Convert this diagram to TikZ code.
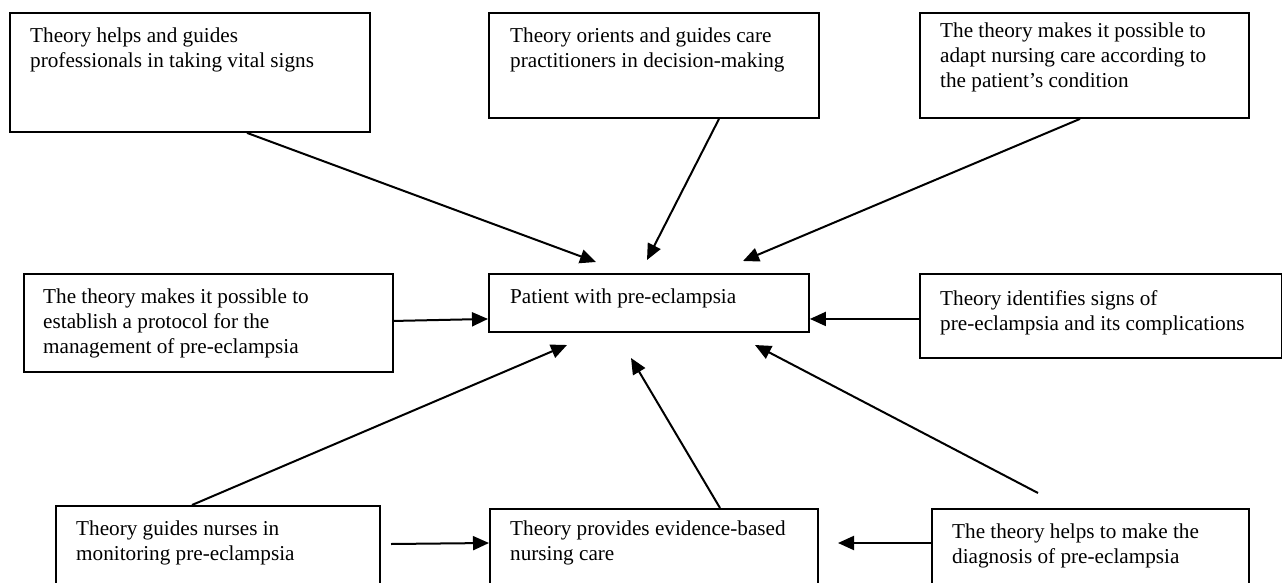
\documentclass[tikz,border=0pt]{standalone}
\usepackage{fontspec}
\setmainfont{Liberation Serif}
\usetikzlibrary{arrows.meta}
\begin{document}
\begin{tikzpicture}[x=1pt,y=-1pt,
  box/.style={draw=black,line width=1.9pt,rectangle,inner sep=0pt,anchor=north west},
  txt/.style={anchor=north west,inner sep=0pt,align=left,font=\fontsize{21.2}{25}\selectfont},
  arr/.style={line width=2pt,-{Triangle[length=16pt,width=14pt]}}]
\useasboundingbox (0,0) rectangle (1282,583);
% boxes
\node[box,minimum width=360pt,minimum height=119pt] (b1) at (9,12) {};
\node[box,minimum width=330pt,minimum height=105pt] (b2) at (488,12) {};
\node[box,minimum width=329pt,minimum height=105pt] (b3) at (919,12) {};
\node[box,minimum width=369pt,minimum height=98pt] (b4) at (23,273) {};
\node[box,minimum width=320pt,minimum height=58pt] (b5) at (488,273) {};
\node[box,minimum width=362pt,minimum height=84pt] (b6) at (919,273) {};
\node[box,minimum width=324pt,minimum height=105pt] (b7) at (55,505) {};
\node[box,minimum width=328pt,minimum height=102pt] (b8) at (489,508) {};
\node[box,minimum width=317pt,minimum height=102pt] (b9) at (931,508) {};
% texts
\node[txt] (t1) at (30,27.5) {Theory helps and guides\\professionals in taking vital signs};
\node[txt] (t2) at (510,27.5) {Theory orients and guides care\\practitioners in decision-making};
\node[txt] (t3) at (940,22.5) {The theory makes it possible to\\adapt nursing care according to\\the patient’s condition};
\node[txt] (t4) at (43,288.5) {The theory makes it possible to\\establish a protocol for the\\management of pre-eclampsia};
\node[txt] (t5) at (510,288.5) {Patient with pre-eclampsia};
\node[txt] (t6) at (940,290.5) {Theory identifies signs of\\pre-eclampsia and its complications};
\node[txt] (t7) at (76,520.5) {Theory guides nurses in\\monitoring pre-eclampsia};
\node[txt] (t8) at (510,520.5) {Theory provides evidence-based\\nursing care};
\node[txt] (t9) at (952,523.5) {The theory helps to make the\\diagnosis of pre-eclampsia};
% free ends
\coordinate (e1) at (596,262);
\coordinate (e2) at (647,260);
\coordinate (e3) at (743,261);
\coordinate (e6) at (567,345);
\coordinate (e7) at (631,358);
\coordinate (e8) at (755,345);
\coordinate (s8) at (1038,493);
\coordinate (s9) at (391,544);
\coordinate (e10) at (838,543);
% connectors
\draw[arr] ([xshift=238pt]b1.south west) -- (e1);
\draw[arr] ([xshift=231pt]b2.south west) -- (e2);
\draw[arr] ([xshift=161pt]b3.south west) -- (e3);
\draw[arr] ([yshift=2pt]b4.east) -- ([yshift=-16pt]b5.west);
\draw[arr] ([yshift=-3pt]b6.west) -- ([yshift=-16pt]b5.east);
\draw[arr] ([xshift=137pt]b7.north west) -- (e6);
\draw[arr] ([xshift=231pt]b8.north west) -- (e7);
\draw[arr] (s8) -- (e8);
\draw[arr] (s9) -- ([yshift=-35pt]b8.north west);
\draw[arr] ([yshift=-35pt]b9.north west) -- (e10);
\end{tikzpicture}
\end{document}
